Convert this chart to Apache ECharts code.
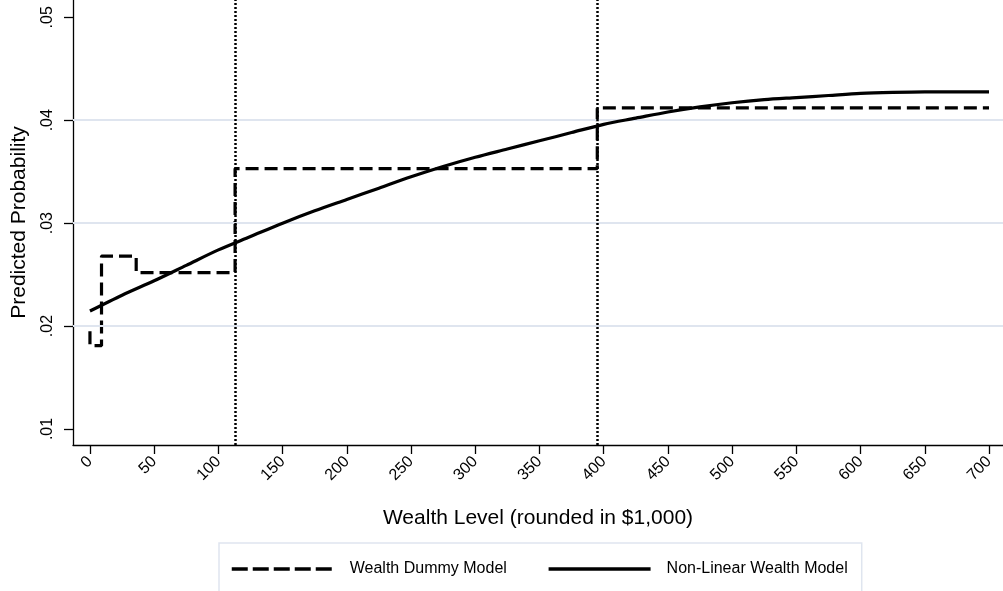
<!DOCTYPE html>
<html>
<head>
<meta charset="utf-8">
<script src="https://cdn.jsdelivr.net/npm/echarts@6/dist/echarts.min.js"></script>
<style>
html,body{margin:0;padding:0;background:#fff;}
#chart{width:1003px;height:591px;}
</style>
</head>
<body>
<div id="chart"></div>
<script>
// Non-linear wealth model
const wealthGrid = [0,25,50,75,100,125,150,175,200,225,250,275,300,325,350,375,400,425,450,475,500,525,550,575,600,625,650,675,700];
const nonLinearProb = [0.02146,0.0230,0.0244,0.0259,0.0274,0.0287,0.0300,0.0312,0.0323,0.0334,0.0345,0.0355,0.0364,0.0372,0.0380,0.0388,0.0396,0.0402,0.0408,0.0413,0.0417,0.0420,0.0422,0.0424,0.0426,0.0427,0.04275,0.04275,0.04275];
// Wealth dummy model (step path)
const dummyWealth = [0,0,9,9,36,36,113,113,395,395,700];
const dummyProb = [0.0195,0.0181,0.0181,0.0268,0.0268,0.0252,0.0252,0.0353,0.0353,0.0412,0.0412];
// Cut-off lines
const cutoffs = [113, 395];
// Ticks and grid
const xTicks = [0,50,100,150,200,250,300,350,400,450,500,550,600,650,700];
const yTicks = [0.01,0.02,0.03,0.04,0.05];
const yGrid = [0.02,0.03,0.04];

const FONT = '"Liberation Sans", Arial, sans-serif';
const chart = echarts.init(document.getElementById('chart'), null, {renderer:'canvas'});

const nonLinearData = wealthGrid.map((w,i)=>[w, nonLinearProb[i]]);
const dummyData = dummyWealth.map((w,i)=>[w, dummyProb[i]]);

chart.setOption({
  animation: false,
  backgroundColor: '#ffffff',
  textStyle: {fontFamily: FONT},
  grid: {left: 73, right: 0, top: 0, bottom: 146, containLabel: false},
  legend: {
    left: 219, top: 543,
    padding: [18, 14, 20, 11],
    borderColor: '#dfe5ef', borderWidth: 1.5,
    itemWidth: 102, itemHeight: 14, itemGap: 40,
    itemStyle: {opacity: 0},
    textStyle: {fontFamily: FONT, fontSize: 16, color: '#000', padding: [0,0,0,11]},
    data: [
      {name: 'Wealth Dummy Model', lineStyle: {color: '#000', width: 3.5, type: [16, 5]}},
      {name: 'Non-Linear Wealth Model', lineStyle: {color: '#000', width: 3.5, type: 'solid'}}
    ]
  },
  xAxis: {
    type: 'value', min: -13.2, max: 710.9,
    name: 'Wealth Level (rounded in $1,000)', nameLocation: 'middle', nameGap: 63,
    nameTextStyle: {fontFamily: FONT, fontSize: 21, color: '#000'},
    axisLine: {show: true, onZero: false, lineStyle: {color: '#000', width: 1.3}},
    axisTick: {show: true, length: 9, lineStyle: {color: '#000', width: 1.3}, customValues: xTicks},
    axisLabel: {rotate: 45, margin: 14, fontSize: 16, color: '#000', fontFamily: FONT, customValues: xTicks,
      formatter: v => String(v)},
    splitLine: {show: false}
  },
  yAxis: {
    type: 'value', min: 0.008445, max: 0.05168,
    name: 'Predicted Probability', nameLocation: 'middle', nameGap: 43, nameRotate: 90,
    nameTextStyle: {fontFamily: FONT, fontSize: 21, color: '#000'},
    axisLine: {show: true, onZero: false, lineStyle: {color: '#000', width: 1.3}},
    axisTick: {show: true, length: 9, lineStyle: {color: '#000', width: 1.3}, customValues: yTicks},
    axisLabel: {rotate: 90, margin: 17, fontSize: 16, color: '#000', fontFamily: FONT, customValues: yTicks,
      formatter: v => v.toFixed(2).replace(/^0/, '')},
    splitLine: {show: false}
  },
  series: [
    {
      name: 'Grid', type: 'line', data: [], silent: true, z: 1,
      markLine: {
        silent: true, symbol: 'none', label: {show: false},
        lineStyle: {color: '#dfe5ef', width: 2, type: 'solid'},
        data: yGrid.map(v => ({yAxis: v}))
      }
    },
    {
      name: 'Cutoffs', type: 'line', data: [], silent: true, z: 2,
      markLine: {
        silent: true, symbol: 'none', label: {show: false},
        lineStyle: {color: '#000', width: 2.5, type: [2, 2], cap: 'butt'},
        data: cutoffs.map(v => ({xAxis: v}))
      }
    },
    {
      name: 'Wealth Dummy Model', type: 'line', data: dummyData, symbol: 'none', z: 4,
      lineStyle: {color: '#000', width: 3.2, type: [13, 6]},
      itemStyle: {color: '#000'}
    },
    {
      name: 'Non-Linear Wealth Model', type: 'line', data: nonLinearData, symbol: 'none', smooth: 0.3, z: 5,
      lineStyle: {color: '#000', width: 3.2, type: 'solid'},
      itemStyle: {color: '#000'}
    }
  ]
});
</script>
</body>
</html>
